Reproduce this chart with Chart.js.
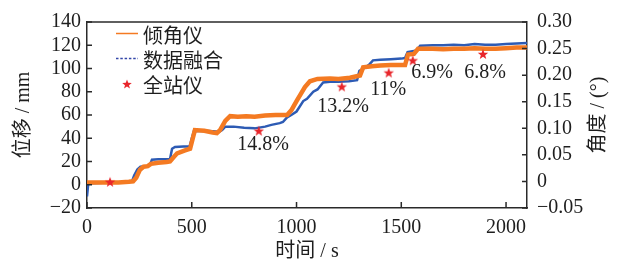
<!DOCTYPE html>
<html><head><meta charset="utf-8">
<script src="https://cdn.jsdelivr.net/npm/chart.js@4/dist/chart.umd.min.js"></script>
<style>html,body{margin:0;padding:0;background:#fff;}#wrap{width:618px;height:264px;position:relative}</style>
</head><body><div id="wrap"><canvas id="c" width="618" height="264"></canvas></div>
<script>
// 倾角仪 (inclinometer) — time (s) and displacement (mm)
const inclT  = [0,50,100,150,200,220,235,253,270,290,305,340,380,396,410,430,468,492,505,515,560,600,620,635,660,683,720,760,800,850,900,955,975,1000,1020,1040,1064,1100,1160,1200,1255,1303,1318,1360,1400,1450,1518,1532,1560,1580,1650,1700,1750,1800,1850,1900,1950,2000,2050,2100];
const inclMM = [2,2,2,2,2.5,3,6,13,15.5,16,18,19,19.5,20,23,27,29.5,31,40,47,46.5,45,44.5,47,55,59,58.5,59,58.5,59.5,60,60,64,72,78,84,89,91,91.5,91,92,94,101,102,102.5,103,103,112,112.5,117,117,116.5,117,117,117.5,117,117,117.5,118,118];
// 数据融合 (data fusion)
const fusionT  = [0,6,50,100,150,200,215,225,240,255,290,300,310,340,370,396,406,420,460,490,500,510,560,600,630,645,660,700,750,800,850,880,920,935,955,975,1000,1032,1050,1080,1100,1127,1160,1200,1250,1289,1300,1330,1350,1365,1400,1450,1500,1518,1530,1560,1575,1590,1650,1700,1750,1800,1850,1900,1950,2000,2050,2100];
const fusionMM = [-10,1,1.5,2,2,2.5,3,8,13,15.5,16,17,21.5,22,22,22,31,32.5,33,33,40,46,46.5,46,45.5,47,50,50,49,48.5,50,51.5,53,54,58,60,63,72,74,80,82,88,88.5,88.5,89,90,98,101,104,107,107.5,108,108.5,109,114,115,116,119.5,120,120,120.5,120,121,120.5,120.5,121,121.5,122];
// 全站仪 (total station)
const stationT  = [110,820,1216,1440,1555,1890];
const stationMM = [2.5,46.5,84.5,96.5,107,112.5];
// error annotations
const noteText = ['14.8%','13.2%','11%','6.9%','6.8%'];
const noteT    = [840,1222,1437,1647,1900];
const noteMM   = [34,67,82,96,96];
// axis ticks
const xTicks = [0,500,1000,1500,2000];
const yTicks = [-20,0,20,40,60,80,100,120,140];
const y2Ticks = [-0.05,0,0.05,0.10,0.15,0.20,0.25,0.30];

const ORANGE = '#F47A22', BLUE = '#2D5BB4', RED = '#E8262B', AXIS = '#2a2a2a', TXT = '#1e1e1e';
const SERIF = "'Liberation Serif','Noto Sans CJK SC',serif";

function drawStar(ctx, cx, cy, R, r) {
  ctx.beginPath();
  for (let i = 0; i < 10; i++) {
    const a = -Math.PI / 2 + i * Math.PI / 5;
    const rr = i % 2 === 0 ? R : r;
    const px = cx + rr * Math.cos(a), py = cy + rr * Math.sin(a);
    if (i === 0) ctx.moveTo(px, py); else ctx.lineTo(px, py);
  }
  ctx.closePath();
  ctx.fillStyle = RED;
  ctx.fill();
}
const starImg = document.createElement('canvas');
starImg.width = 12; starImg.height = 12;
drawStar(starImg.getContext('2d'), 6, 6.5, 5.5, 2.3);

const minus = s => String(s).replace('-', '\u2212');

const decor = {
  id: 'decor',
  afterDraw(chart) {
    const ctx = chart.ctx, a = chart.chartArea;
    const sx = chart.scales.x, sy = chart.scales.y, sy2 = chart.scales.y2;
    ctx.save();
    // frame top line
    ctx.strokeStyle = AXIS; ctx.lineWidth = 1.5;
    ctx.beginPath(); ctx.moveTo(a.left, a.top); ctx.lineTo(a.right, a.top); ctx.stroke();
    // inward ticks
    ctx.beginPath();
    xTicks.forEach(v => { const p = sx.getPixelForValue(v); ctx.moveTo(p, a.bottom); ctx.lineTo(p, a.bottom - 6); });
    yTicks.forEach(v => { const p = sy.getPixelForValue(v); ctx.moveTo(a.left, p); ctx.lineTo(a.left + 5, p); });
    y2Ticks.forEach(v => { const p = sy2.getPixelForValue(v); ctx.moveTo(a.right, p); ctx.lineTo(a.right - 5, p); });
    ctx.stroke();
    // annotations
    ctx.fillStyle = TXT;
    ctx.font = '20px ' + SERIF;
    ctx.textAlign = 'center'; ctx.textBaseline = 'middle';
    noteText.forEach((t, i) => ctx.fillText(t, sx.getPixelForValue(noteT[i]), sy.getPixelForValue(noteMM[i])));
    // legend
    const lx = a.left + 29, tx = a.left + 56;
    ctx.textAlign = 'left';
    ctx.strokeStyle = ORANGE; ctx.lineWidth = 1.5;
    ctx.beginPath(); ctx.moveTo(lx, 33.5); ctx.lineTo(lx + 22, 33.5); ctx.stroke();
    ctx.strokeStyle = '#3346A8'; ctx.setLineDash([2.5, 1.8]);
    ctx.beginPath(); ctx.moveTo(lx, 58.5); ctx.lineTo(lx + 22, 58.5); ctx.stroke();
    ctx.setLineDash([]);
    drawStar(ctx, lx + 11, 84.5, 5, 2.1);
    ctx.fillStyle = TXT;
    ctx.font = "20px 'Noto Sans CJK SC'";
    const names = chart.data.datasets.map(d => d.label);
    ctx.fillText(names[1], tx, 35);
    ctx.fillText(names[2], tx, 60);
    ctx.fillText(names[0], tx, 85);
    // right axis title (reads bottom-to-top)
    ctx.translate(599, (a.top + a.bottom) / 2);
    ctx.rotate(-Math.PI / 2);
    ctx.textAlign = 'center';
    ctx.font = '20px ' + SERIF;
    ctx.fillText('角度 / (°)', 0, 0);
    ctx.restore();
  }
};

new Chart(document.getElementById('c'), {
  type: 'line',
  data: {
    datasets: [
      { label: '全站仪', data: stationT.map((t, i) => ({x: t, y: stationMM[i]})), showLine: false,
        pointStyle: starImg, pointRadius: 6, order: 0, yAxisID: 'y' },
      { label: '倾角仪', data: inclT.map((t, i) => ({x: t, y: inclMM[i]})), borderColor: ORANGE,
        borderWidth: 4.5, pointRadius: 0, tension: 0, order: 1, yAxisID: 'y' },
      { label: '数据融合', data: fusionT.map((t, i) => ({x: t, y: fusionMM[i]})), borderColor: BLUE,
        borderWidth: 2.5, pointRadius: 0, tension: 0, order: 2, yAxisID: 'y' }
    ]
  },
  options: {
    responsive: false, animation: false, devicePixelRatio: 1,
    layout: { padding: { top: 15, left: 0, right: 0, bottom: 0 } },
    plugins: { legend: { display: false }, tooltip: { enabled: false } },
    scales: {
      x: {
        type: 'linear', position: 'bottom', min: 0, max: 2100,
        afterBuildTicks: s => { s.ticks = xTicks.map(v => ({value: v})); },
        afterFit: s => { s.height = 56; },
        grid: { display: false, drawTicks: false },
        border: { display: true, color: AXIS, width: 1.5 },
        ticks: { autoSkip: false, padding: 8, maxRotation: 0, color: TXT, font: { family: SERIF, size: 20 }, callback: v => String(v) },
        title: { display: true, text: '时间 / s', color: TXT, font: { family: SERIF, size: 20 }, padding: { top: 0, bottom: 0 } }
      },
      y: {
        position: 'left', min: -20, max: 140,
        afterBuildTicks: s => { s.ticks = yTicks.map(v => ({value: v})); },
        afterFit: s => { s.width = 87; },
        grid: { display: false, drawTicks: false },
        border: { display: true, color: AXIS, width: 1.5 },
        ticks: { autoSkip: false, padding: 6, color: TXT, font: { family: SERIF, size: 20 }, callback: v => minus(v) },
        title: { display: true, text: '位移 / mm', color: TXT, font: { family: SERIF, size: 20 }, padding: { top: 12, bottom: 0 } }
      },
      y2: {
        position: 'right', min: -0.05, max: 0.30,
        afterBuildTicks: s => { s.ticks = y2Ticks.map(v => ({value: v})); },
        afterFit: s => { s.width = 91; },
        grid: { display: false, drawTicks: false },
        border: { display: true, color: AXIS, width: 1.5 },
        ticks: { autoSkip: false, padding: 10, color: TXT, font: { family: SERIF, size: 20 },
          callback: v => Math.abs(v) < 1e-9 ? '0' : minus(v.toFixed(2)) }
      }
    }
  },
  plugins: [decor]
});
</script></body></html>
